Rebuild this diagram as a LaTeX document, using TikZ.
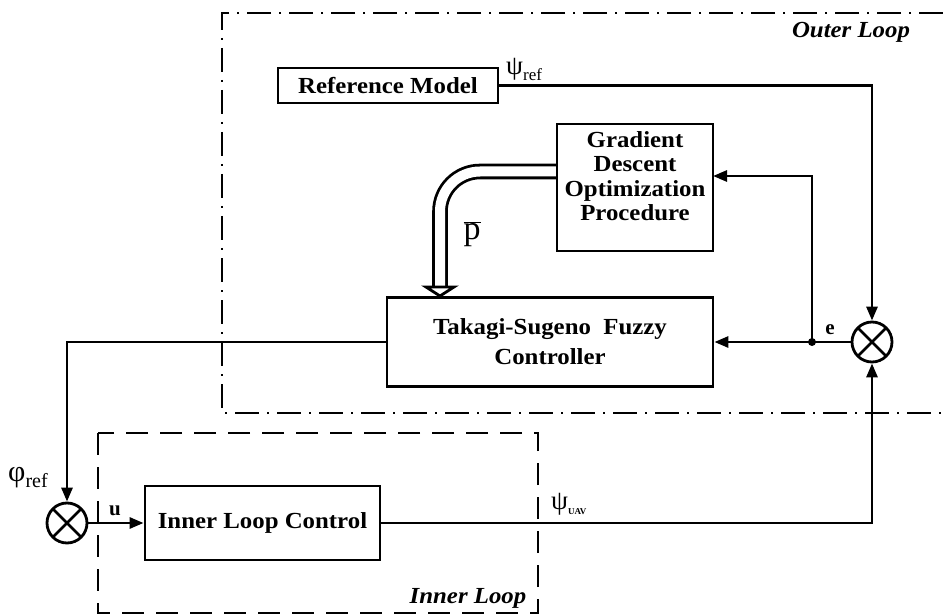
\documentclass[tikz,border=0pt]{standalone}
\usepackage{fontspec}
\setmainfont{Liberation Serif}
\newfontfamily\widefont{Liberation Serif}[FakeStretch=1.08]
\usetikzlibrary{arrows.meta,backgrounds,calc}
\tikzset{
  x=1pt, y=-1pt,
  wire/.style={line width=2.8pt},
  arr/.style={wire, -{Triangle[length=14pt,width=11pt]}},
  blk/.style={draw, line width=2.8pt, fill=white, align=center,
              font=\widefont\fontsize{23}{22.5}\selectfont\bfseries, inner sep=0pt},
  blktext/.style={align=center, font=\widefont\fontsize{23}{24.5}\selectfont\bfseries, inner sep=0pt},
  summer/.style={draw, line width=2.8pt, circle, minimum size=40pt, inner sep=0pt, fill=white,
                 path picture={\draw[line width=2.8pt] (path picture bounding box.north west) -- (path picture bounding box.south east)
                   (path picture bounding box.north east) -- (path picture bounding box.south west);}},
  lbl/.style={font=\fontsize{21}{22}\selectfont\bfseries, inner sep=0pt},
  greek/.style={font=\fontsize{27}{28}\selectfont, inner sep=0pt},
  looplbl/.style={font=\widefont\fontsize{23}{24}\selectfont\bfseries\itshape, inner sep=0pt},
}
\begin{document}
\begin{tikzpicture}
\useasboundingbox (0,0) rectangle (943,615);

% loop frames
\draw[line width=2.8pt, dash pattern=on 24pt off 8pt on 2pt off 8pt]
  (943,13) -- (222,13) -- (222,413) -- (943,413);
\draw[line width=2.8pt, dash pattern=on 22pt off 12pt]
  (98,433) rectangle (538,613);
\node[looplbl, anchor=base] (olbl) at (851,38) {Outer Loop};
\node[looplbl, anchor=base] (ilbl) at (468,603) {Inner Loop};

% blocks
\node[blk, minimum width=220pt, minimum height=35pt] (rm) at (388,85.5) {Reference Model};
\node[blk, minimum width=156pt, minimum height=127pt] (gd) at (635,187.5) {};
\node[blktext, anchor=north] (gdt) at (635,131)
  {Gradient\\Descent\\Optimization\\Procedure};
\node[blk, minimum width=326pt, minimum height=89pt,
      font=\widefont\fontsize{23}{30}\selectfont\bfseries] (ts) at (550,342)
  {Takagi-Sugeno\ \ Fuzzy\\Controller};
\node[blk, minimum width=235pt, minimum height=74pt] (il) at (262.5,523) {Inner Loop Control};

% summing junctions
\node[summer] (so) at (872,342) {};
\node[summer] (si) at (67,523) {};

% helper points
\coordinate (j) at (812,342);
\coordinate (gdin) at (713,176);
\coordinate (gdout) at (557,171.5);
\coordinate (tsin) at (440,287);

% hollow parameter arrow
\begin{scope}[on background layer]
\draw[line width=2.8pt, double=white, double distance=10pt, rounded corners=40pt]
  (gdout) -- (440,171.5) -- (tsin);
\end{scope}
\draw[line width=2.8pt, fill=white, line join=miter]
  ($(tsin)+(-14,0)$) -- ($(tsin)+(14,0)$) -- ($(tsin)+(0,9)$) -- cycle;

% signal lines
\draw[arr] (rm.east) -| (so.north);
\draw[arr] (so.west) -- (ts.east);
\draw[arr] (j) |- (gdin);
\fill (j) circle (4pt);
\draw[arr] (ts.west) -| (si.north);
\draw[arr] (si.east) -- (il.west);
\draw[arr] (il.east) -| (so.south);

% labels
\node[greek, anchor=base west] (psiref) at (506,75) {ψ\raisebox{-6pt}{\fontsize{17}{18}\selectfont ref}};
\node[font=\fontsize{34}{34}\selectfont, inner sep=0pt] (pbar) at (472,234) {$\overline{\hbox{p}}$};
\node[lbl, anchor=base] (elbl) at (830,334) {e};
\node[lbl, anchor=base] (ulbl) at (115,515) {u};
\node[greek, font=\fontsize{30}{30}\selectfont, anchor=base west] (phiref) at (8,481)
  {φ\raisebox{-6pt}{\fontsize{20}{20}\selectfont ref}};
\node[greek, anchor=base west] (psiuav) at (551,509) {ψ\raisebox{-5pt}{\fontsize{9}{10}\selectfont\bfseries UAV}};
\end{tikzpicture}
\end{document}
